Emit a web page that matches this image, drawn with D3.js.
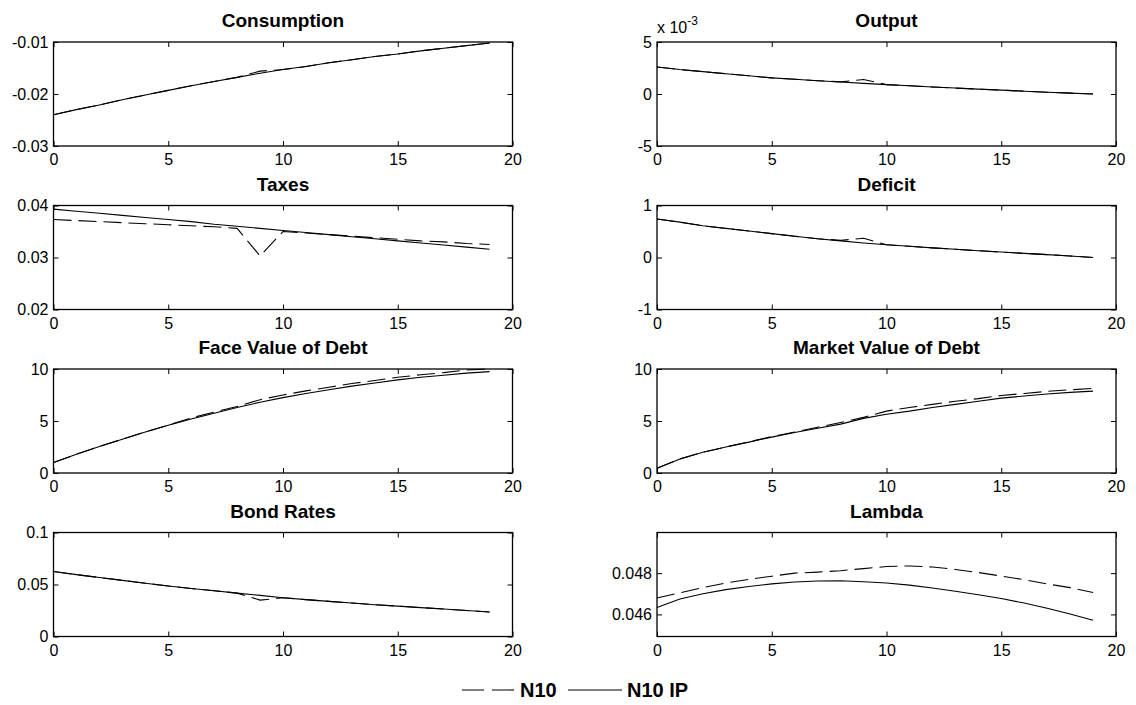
<!DOCTYPE html>
<html>
<head>
<meta charset="utf-8">
<script src="https://cdn.jsdelivr.net/npm/d3@7"></script>
<style>
  html, body { margin: 0; padding: 0; background: #ffffff; }
  svg { display: block; font-family: "Liberation Sans", Arial, sans-serif; }
</style>
</head>
<body>
<svg id="chart" width="1136" height="705"></svg>
<script>
// ---------------- DATA ----------------
const periods = [0,1,2,3,4,5,6,7,8,9,10,11,12,13,14,15,16,17,18,19];
const seriesNames = ["N10", "N10 IP"];
const xTicks = [0, 5, 10, 15, 20];

const consumptionN10   = [-0.0240,-0.0230,-0.0221,-0.0211,-0.0202,-0.0193,-0.0184,-0.0176,-0.0168,-0.0156,-0.0153,-0.0147,-0.0140,-0.0134,-0.0128,-0.0123,-0.0117,-0.0112,-0.0107,-0.0102];
const consumptionN10IP = [-0.0240,-0.0230,-0.0221,-0.0211,-0.0202,-0.0193,-0.0184,-0.0176,-0.0168,-0.0160,-0.0153,-0.0147,-0.0140,-0.0134,-0.0128,-0.0123,-0.0117,-0.0112,-0.0107,-0.0102];

// Output in units of 10^-3
const outputN10   = [2.60,2.35,2.15,1.95,1.75,1.55,1.42,1.28,1.17,1.40,0.90,0.80,0.68,0.57,0.47,0.37,0.27,0.17,0.08,0.00];
const outputN10IP = [2.60,2.35,2.15,1.95,1.75,1.55,1.42,1.28,1.15,1.02,0.90,0.80,0.68,0.57,0.47,0.37,0.27,0.17,0.08,0.00];

const taxesN10   = [0.0373,0.0371,0.0369,0.0367,0.0365,0.0363,0.0361,0.0359,0.0356,0.0303,0.0350,0.0347,0.0344,0.0341,0.0338,0.0335,0.0332,0.0330,0.0327,0.0325];
const taxesN10IP = [0.0393,0.0389,0.0385,0.0381,0.0377,0.0373,0.0369,0.0364,0.0360,0.0356,0.0352,0.0348,0.0344,0.0340,0.0336,0.0332,0.0328,0.0324,0.0320,0.0316];

const deficitN10   = [0.74,0.68,0.61,0.56,0.51,0.46,0.41,0.36,0.33,0.37,0.245,0.215,0.185,0.16,0.13,0.105,0.08,0.055,0.03,0.00];
const deficitN10IP = [0.74,0.68,0.61,0.56,0.51,0.46,0.41,0.36,0.32,0.28,0.245,0.215,0.185,0.16,0.13,0.105,0.08,0.055,0.03,0.00];

const faceDebtN10   = [1.0,1.8,2.55,3.25,3.95,4.6,5.3,5.85,6.4,7.05,7.5,7.9,8.25,8.6,8.9,9.2,9.45,9.65,9.9,10.0];
const faceDebtN10IP = [1.0,1.8,2.55,3.25,3.95,4.6,5.2,5.75,6.3,6.8,7.25,7.65,8.0,8.35,8.65,8.95,9.2,9.4,9.6,9.75];

const marketDebtN10   = [0.45,1.35,2.0,2.5,3.0,3.5,3.95,4.4,4.85,5.35,5.95,6.3,6.6,6.9,7.15,7.45,7.65,7.85,8.0,8.13];
const marketDebtN10IP = [0.45,1.35,2.0,2.5,2.97,3.45,3.9,4.3,4.7,5.25,5.65,5.95,6.3,6.6,6.9,7.2,7.4,7.6,7.75,7.87];

const bondRatesN10   = [0.0625,0.0595,0.0567,0.0540,0.0512,0.0485,0.0462,0.0440,0.0417,0.0350,0.0372,0.0355,0.0338,0.0322,0.0306,0.0292,0.0278,0.0264,0.0250,0.0236];
const bondRatesN10IP = [0.0625,0.0595,0.0567,0.0540,0.0512,0.0485,0.0462,0.0440,0.0417,0.0395,0.0372,0.0355,0.0338,0.0322,0.0306,0.0292,0.0278,0.0264,0.0250,0.0236];

const lambdaN10   = [0.04680,0.04705,0.04730,0.04752,0.04770,0.04785,0.04800,0.04805,0.04812,0.04822,0.04832,0.04835,0.04830,0.04818,0.04803,0.04786,0.04768,0.04748,0.04730,0.04706];
const lambdaN10IP = [0.04634,0.04675,0.04700,0.04720,0.04735,0.04748,0.04757,0.04762,0.04763,0.04758,0.04752,0.04742,0.04728,0.04712,0.04695,0.04677,0.04655,0.04630,0.04602,0.04572];

// panel definitions (built from the arrays above)
const panels = [
  { title: "Consumption",          col: 0, row: 0, domain: [-0.03, -0.01], ticks: [-0.03, -0.02, -0.01], a: consumptionN10, b: consumptionN10IP },
  { title: "Output",               col: 1, row: 0, domain: [-5, 5],        ticks: [-5, 0, 5],            a: outputN10,      b: outputN10IP, exponent: "-3" },
  { title: "Taxes",                col: 0, row: 1, domain: [0.02, 0.04],   ticks: [0.02, 0.03, 0.04],    a: taxesN10,       b: taxesN10IP },
  { title: "Deficit",              col: 1, row: 1, domain: [-1, 1],        ticks: [-1, 0, 1],            a: deficitN10,     b: deficitN10IP },
  { title: "Face Value of Debt",   col: 0, row: 2, domain: [0, 10],        ticks: [0, 5, 10],            a: faceDebtN10,    b: faceDebtN10IP },
  { title: "Market Value of Debt", col: 1, row: 2, domain: [0, 10],        ticks: [0, 5, 10],            a: marketDebtN10,  b: marketDebtN10IP },
  { title: "Bond Rates",           col: 0, row: 3, domain: [0, 0.1],       ticks: [0, 0.05, 0.1],        a: bondRatesN10,   b: bondRatesN10IP },
  { title: "Lambda",               col: 1, row: 3, domain: [0.04493, 0.04997], ticks: [0.046, 0.048],    a: lambdaN10,      b: lambdaN10IP }
];

// ---------------- LAYOUT ----------------
const colLeft = [53.5, 657];
const boxW = 459;
const rowTop = [42, 205.5, 369, 532.5];
const boxH = 104;

const svg = d3.select("#chart");
const fmt = d => String(+d.toFixed(6));

panels.forEach(p => {
  const x0 = colLeft[p.col], y0 = rowTop[p.row];
  const g = svg.append("g").attr("transform", `translate(${x0},${y0})`);
  const x = d3.scaleLinear().domain([0, 20]).range([0, boxW]);
  const y = d3.scaleLinear().domain(p.domain).range([boxH, 0]);

  // axes with inward ticks
  const styleAxis = sel => {
    sel.select(".domain").remove();
    sel.selectAll(".tick line").attr("stroke", "#000").attr("stroke-width", 1);
    sel.selectAll(".tick text").attr("fill", "#000").style("font-size", "16px")
       .style("font-family", '"Liberation Sans", Arial, sans-serif');
  };
  g.append("g").attr("transform", `translate(0,${boxH})`)
    .call(d3.axisBottom(x).tickValues(xTicks).tickSize(-5).tickPadding(8).tickFormat(fmt)).call(styleAxis);
  g.append("g")
    .call(d3.axisTop(x).tickValues(xTicks).tickSize(-5).tickFormat("")).call(styleAxis);
  g.append("g")
    .call(d3.axisLeft(y).tickValues(p.ticks).tickSize(-5).tickPadding(5).tickFormat(fmt)).call(styleAxis);
  g.append("g").attr("transform", `translate(${boxW},0)`)
    .call(d3.axisRight(y).tickValues(p.ticks).tickSize(-5).tickFormat("")).call(styleAxis);

  // box
  g.append("rect").attr("x", 0).attr("y", 0).attr("width", boxW).attr("height", boxH)
    .attr("fill", "none").attr("stroke", "#000").attr("stroke-width", 1.3);

  const line = d3.line().x((d, i) => x(periods[i])).y(d => y(d));
  g.append("path").datum(p.a).attr("d", line)
    .attr("fill", "none").attr("stroke", "#000").attr("stroke-width", 1.1).attr("stroke-dasharray", "18,7");
  g.append("path").datum(p.b).attr("d", line)
    .attr("fill", "none").attr("stroke", "#000").attr("stroke-width", 1.1);

  // title
  g.append("text").attr("x", boxW / 2).attr("y", -15).attr("text-anchor", "middle")
    .style("font-size", "19px").style("font-weight", "bold").attr("fill", "#000").text(p.title);

  if (p.exponent) {
    const t = g.append("text").attr("x", 0).attr("y", -9).style("font-size", "16px").attr("fill", "#000");
    t.append("tspan").text("x 10");
    t.append("tspan").attr("dy", -8).style("font-size", "12px").text(p.exponent);
  }
});

// ---------------- LEGEND ----------------
const leg = svg.append("g");
const legY = 690;
leg.append("line").attr("x1", 462).attr("x2", 515).attr("y1", legY).attr("y2", legY)
  .attr("stroke", "#000").attr("stroke-width", 1.1).attr("stroke-dasharray", "22,8");
leg.append("text").attr("x", 520).attr("y", legY + 7).style("font-size", "20px").style("font-weight", "bold")
  .attr("fill", "#000").text(seriesNames[0]);
leg.append("line").attr("x1", 568).attr("x2", 622).attr("y1", legY).attr("y2", legY)
  .attr("stroke", "#000").attr("stroke-width", 1.1);
leg.append("text").attr("x", 627).attr("y", legY + 7).style("font-size", "20px").style("font-weight", "bold")
  .attr("fill", "#000").text(seriesNames[1]);
</script>
</body>
</html>
